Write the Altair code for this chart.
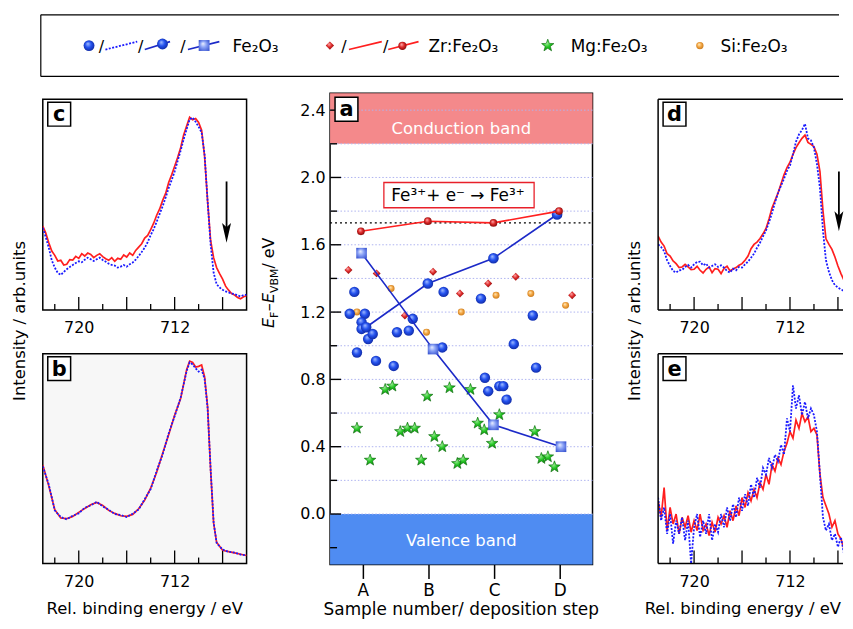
import altair as alt
import pandas as pd

FONT = "DejaVu Sans"

# ===================== Panel a : E_F - E_VBM vs deposition step =====================
step_labels = ["A", "B", "C", "D"]
step_pos = [1, 2, 3, 4]

fe_x = [0.87, 2.23, 2.80, 0.80, 1.03, 0.98, 0.98, 1.08, 1.15, 0.91, 1.20, 1.47,
        1.52, 1.70, 1.76, 2.21, 2.86, 2.91, 3.08, 3.14, 3.19, 3.30, 3.59, 3.64]
fe_y = [1.32, 1.32, 1.28, 1.19, 1.19, 1.14, 1.10, 1.04, 1.07, 0.96, 0.91, 0.88,
        1.08, 1.09, 1.16, 0.99, 0.81, 0.73, 0.76, 0.76, 0.68, 1.01, 1.18, 0.87]
zr_x = [0.78, 1.21, 2.07, 2.48, 2.91, 3.33, 4.19, 1.64]
zr_y = [1.45, 1.43, 1.44, 1.31, 1.37, 1.41, 1.30, 1.18]
si_x = [1.43, 3.03, 3.56, 4.09, 0.91, 2.50, 1.97]
si_y = [1.34, 1.30, 1.31, 1.24, 1.20, 1.20, 1.08]
mg_x = [0.91, 1.11, 1.34, 1.45, 1.57, 1.68, 1.79, 1.98, 1.89, 2.09, 2.21, 2.32,
        2.44, 2.53, 2.64, 2.75, 2.85, 2.97, 3.08, 3.62, 3.72, 3.82, 3.92]
mg_y = [0.51, 0.32, 0.74, 0.76, 0.49, 0.51, 0.51, 0.70, 0.32, 0.46, 0.40, 0.75,
        0.30, 0.32, 0.74, 0.54, 0.50, 0.42, 0.59, 0.49, 0.33, 0.34, 0.28]

ball_line_x = [1.05, 1.99, 2.99, 3.96]
ball_line_y = [1.11, 1.37, 1.52, 1.78]
square_line_x = [0.98, 2.07, 2.99, 4.02]
square_line_y = [1.55, 0.98, 0.53, 0.40]
zr_line_x = [0.97, 1.99, 2.99, 3.99]
zr_line_y = [1.68, 1.74, 1.73, 1.80]

band_lo = [2.2, -0.3]
band_hi = [2.5, 0.0]
band_names = ["Conduction band", "Valence band"]
band_label_y = [2.29, -0.16]
pinning_level = [1.73]
grid_levels = [0.0, 0.2, 0.4, 0.6, 0.8, 1.0, 1.2, 1.4, 1.6, 1.8, 2.0, 2.2, 2.4]
y_major = [0.0, 0.4, 0.8, 1.2, 1.6, 2.0, 2.4]
y_minor = [-0.2, 0.2, 0.6, 1.0, 1.4, 1.8, 2.2]
reaction_box = {"x": [1.32], "x2": [3.61], "y": [1.82], "y2": [1.97]}
reaction_text = "Fe³⁺+ e⁻ → Fe³⁺"
reaction_pos = {"x": [2.45], "y": [1.89]}

# ===================== Spectra (intensity in arbitrary units) =====================
c_E = [723.0, 722.75, 722.5, 722.25, 722.0, 721.75, 721.5, 721.25, 721.0, 720.75,
       720.5, 720.25, 720.0, 719.75, 719.5, 719.25, 719.0, 718.75, 718.5, 718.25,
       718.0, 717.75, 717.5, 717.25, 717.0, 716.75, 716.5, 716.25, 716.0, 715.75,
       715.5, 715.25, 715.0, 714.75, 714.5, 714.25, 714.0, 713.75, 713.5, 713.25,
       713.0, 712.75, 712.5, 712.25, 712.0, 711.75, 711.5, 711.25, 711.0, 710.75,
       710.5, 710.25, 710.0, 709.75, 709.5, 709.25, 709.0, 708.75, 708.5, 708.25,
       708.0, 707.75, 707.5, 707.25, 707.0, 706.75, 706.5, 706.25, 706.0]
c_red = [253, 232, 203, 178, 165, 148, 150, 136, 138, 152,
         151, 162, 156, 170, 163, 172, 168, 158, 165, 170,
         161, 155, 150, 158, 147, 156, 153, 166, 160, 172,
         165, 180, 190, 200, 217, 225, 243, 262, 286, 305,
         331, 352, 385, 408, 434, 460, 490, 528, 555, 582,
         574, 578, 566, 543, 463, 328, 210, 158, 128, 110,
         93, 72, 60, 50, 45, 38, 34, 40, 43]
c_blue = [248, 220, 188, 150, 128, 112, 106, 115, 123, 130,
          136, 142, 147, 144, 152, 158, 153, 148, 153, 158,
          151, 146, 140, 136, 134, 128, 131, 136, 131, 138,
          143, 152, 163, 175, 188, 205, 226, 244, 266, 290,
          313, 340, 368, 392, 418, 450, 481, 515, 546, 575,
          581, 568, 553, 536, 468, 328, 198, 113, 78, 68,
          61, 56, 53, 50, 48, 44, 41, 45, 46]

b_E = [723.0, 722.5, 722.0, 721.5, 721.0, 720.5, 720.0, 719.5, 719.0, 718.5,
       718.0, 717.5, 717.0, 716.5, 716.0, 715.5, 715.0, 714.5, 714.0, 713.5,
       713.0, 712.5, 712.0, 711.5, 711.0, 710.75, 710.5, 710.25, 710.0, 709.75,
       709.5, 709.25, 709.0, 708.75, 708.5, 708.0, 707.5, 707.0, 706.5, 706.0]
b_red = [297, 234, 162, 137, 135, 142, 154, 166, 177, 184,
         175, 160, 151, 144, 142, 148, 165, 191, 227, 275,
         332, 388, 447, 497, 584, 610, 606, 592, 594, 598,
         562, 472, 282, 122, 64, 40, 36, 32, 28, 24]
b_blue = [293, 238, 160, 140, 133, 144, 151, 168, 175, 186,
          172, 162, 149, 146, 140, 150, 163, 194, 224, 279,
          329, 392, 444, 500, 580, 606, 600, 588, 578, 584,
          556, 468, 285, 125, 62, 42, 35, 33, 27, 25]

d_E = [723.0, 722.75, 722.5, 722.25, 722.0, 721.75, 721.5, 721.25, 721.0, 720.75,
       720.5, 720.25, 720.0, 719.75, 719.5, 719.25, 719.0, 718.75, 718.5, 718.25,
       718.0, 717.75, 717.5, 717.25, 717.0, 716.75, 716.5, 716.25, 716.0, 715.75,
       715.5, 715.25, 715.0, 714.75, 714.5, 714.25, 714.0, 713.75, 713.5, 713.25,
       713.0, 712.75, 712.5, 712.25, 712.0, 711.75, 711.5, 711.25, 711.0, 710.75,
       710.5, 710.25, 710.0, 709.75, 709.5, 709.25, 709.0, 708.75, 708.5, 708.25,
       708.0, 707.75, 707.5, 707.25, 707.0, 706.75]
d_red = [223, 205, 193, 170, 163, 148, 140, 128, 130, 138,
         130, 122, 123, 132, 120, 112, 123, 130, 113, 125,
         123, 110, 126, 132, 118, 124, 128, 135, 140, 150,
         163, 185, 198, 205, 216, 230, 246, 275, 308, 330,
         353, 380, 408, 430, 446, 470, 490, 505, 518, 528,
         506, 500, 493, 470, 418, 300, 215, 198, 183, 160,
         133, 110, 90, 75, 61, 43]
d_blue = [198, 190, 178, 150, 133, 118, 113, 120, 121, 130,
          136, 128, 138, 145, 146, 135, 140, 128, 133, 138,
          130, 135, 128, 118, 113, 125, 120, 130, 128, 138,
          146, 158, 170, 188, 203, 222, 240, 265, 293, 325,
          353, 375, 396, 420, 436, 470, 508, 530, 543, 562,
          518, 512, 490, 440, 368, 240, 150, 115, 90, 75,
          68, 62, 58, 52, 50, 38]

e_E = [723.0, 722.75, 722.5, 722.25, 722.0, 721.75, 721.5, 721.25, 721.0, 720.75,
       720.5, 720.25, 720.0, 719.75, 719.5, 719.25, 719.0, 718.75, 718.5, 718.25,
       718.0, 717.75, 717.5, 717.25, 717.0, 716.75, 716.5, 716.25, 716.0, 715.75,
       715.5, 715.25, 715.0, 714.75, 714.5, 714.25, 714.0, 713.75, 713.5, 713.25,
       713.0, 712.75, 712.5, 712.25, 712.0, 711.75, 711.5, 711.25, 711.0, 710.75,
       710.5, 710.25, 710.0, 709.75, 709.5, 709.25, 709.0, 708.75, 708.5, 708.25,
       708.0, 707.75, 707.5, 707.25, 707.0, 706.75]
e_red = [190, 140, 230, 100, 170, 120, 150, 90, 140, 110,
         145, 95, 130, 100, 150, 100, 120, 85, 125, 95,
         140, 120, 145, 110, 160, 130, 175, 145, 200, 170,
         215, 190, 225, 200, 245, 225, 270, 240, 300, 280,
         320, 300, 340, 365, 400, 380, 435, 410, 455, 430,
         445, 400, 410, 390, 270, 200, 175, 150, 110, 130,
         90, 75, 45, 70, 15, 48]
e_blue = [200, 130, 170, 90, 150, 60, 130, 90, 140, 70,
          130, 0, 110, 150, 80, 130, 90, 150, 70, 120,
          95, 150, 110, 170, 130, 180, 140, 200, 160, 210,
          175, 240, 200, 260, 230, 290, 270, 320, 290, 330,
          310, 360, 330, 440, 400, 540, 470, 510, 450, 490,
          440, 470, 450, 400, 270, 140, 100, 120, 70, 90,
          50, 80, 30, 60, 40, 50]

tick_major_E = [720, 716, 712, 708]
tick_minor_E = [722, 718, 714, 710]
tick_label_E = [720, 712]
arrow_c = {"E": [707.67], "top": [388], "head": [233]}
arrow_d = {"E": [707.92], "top": [418], "head": [268]}

legend_names = ["Fe₂O₃", "Zr:Fe₂O₃", "Mg:Fe₂O₃", "Si:Fe₂O₃"]

# ===================== styles =====================
RED = "#ff1f1f"
BLUE = "#1a1aff"
LINE_BLUE = "#1c2ac8"
CB_COL = "#f4898b"
VB_COL = "#4f8cf2"
GRID_COL = "#aeb3f0"


def grad(light, mid, dark):
    return {"gradient": "radial", "x1": 0.38, "y1": 0.32, "r1": 0.0,
            "x2": 0.5, "y2": 0.5, "r2": 0.62,
            "stops": [{"offset": 0.0, "color": light},
                      {"offset": 0.45, "color": mid},
                      {"offset": 1.0, "color": dark}]}


G_FE = grad("#a9c2ff", "#2452f0", "#0b1e8c")
G_SQ = grad("#eef2ff", "#8aa2f6", "#3a55d0")
G_ZR = grad("#ffb8b8", "#e02a2a", "#6a0000")
G_SI = grad("#fff2cc", "#f6a844", "#b86a10")
G_MG = grad("#b0f5a8", "#22c422", "#0b7a0b")
STAR = ("M0,-1L0.247,-0.34L0.951,-0.309L0.399,0.13L0.588,0.809L0,0.42"
        "L-0.588,0.809L-0.399,0.13L-0.951,-0.309L-0.247,-0.34Z")
ARROW = "M-0.45,-1L0,1L0.45,-1L0,-0.55Z"

one = pd.DataFrame({"k": [0]})


def anchor(x, y0, y1):
    return alt.Chart(one).mark_rule(strokeOpacity=0, strokeWidth=1).encode(
        x=alt.value(x), y=alt.value(y0), y2=alt.value(y1))


def seg(x1, y1, x2, y2, color="black", width=1.5, dash=None):
    kw = dict(color=color, strokeWidth=width)
    if dash:
        kw["strokeDash"] = dash
    return alt.Chart(one).mark_rule(**kw).encode(
        x=alt.value(x1), y=alt.value(y1), x2=alt.value(x2), y2=alt.value(y2))


def vtext(txt, x, y, size=16, **kw):
    return alt.Chart(one).mark_text(text=txt, font=FONT, fontSize=size,
                                    color="black", **kw).encode(
        x=alt.value(x), y=alt.value(y))


def vsym(x, y, shape, size, fill, stroke=None):
    kw = dict(shape=shape, size=size, filled=True, fill=fill, opacity=1)
    if stroke:
        kw.update(stroke=stroke, strokeWidth=0.6)
    else:
        kw.update(strokeWidth=0)
    return alt.Chart(one).mark_point(**kw).encode(x=alt.value(x), y=alt.value(y))


def label_box(letter, x0, y0, w=23, h=24):
    rect = alt.Chart(one).mark_rect(fill="white", stroke="black", strokeWidth=1.5).encode(
        x=alt.value(x0), x2=alt.value(x0 + w), y=alt.value(y0), y2=alt.value(y0 + h))
    txt = vtext(letter, x0 + w / 2, y0 + h / 2 + 1, size=21, fontWeight="bold",
                align="center", baseline="middle")
    return [rect, txt]


def spacer(w, h):
    return anchor(0, 0, h).properties(
        width=w, height=h, view=alt.ViewBackground(fill="transparent", stroke="transparent"))


# ===================== spectra panels =====================
AX_S = alt.Axis(values=tick_label_E, format="d", ticks=False, tickSize=0, domain=False,
                grid=False, labelFontSize=16, labelPadding=10, labelFont=FONT,
                labelColor="black")


def spectrum(E, red, blue, emin, width, height, ymax, letter, framed=True, bg="white",
             arrow=None, extra=None):
    df = pd.DataFrame({"E": E, "red": red, "blue": blue})
    xs = alt.Scale(domain=[723.0, emin], nice=False, zero=False)
    ys = alt.Scale(domain=[0, ymax], nice=False, zero=False)
    X = alt.X("E:Q", scale=xs, axis=AX_S, title=None)
    layers = []
    layers.append(alt.Chart(pd.DataFrame({"E": tick_major_E})).mark_rule(
        color="black", strokeWidth=1.3).encode(x=X, y=alt.value(height), y2=alt.value(height - 13)))
    layers.append(alt.Chart(pd.DataFrame({"E": tick_minor_E})).mark_rule(
        color="black", strokeWidth=1.3).encode(x=X, y=alt.value(height), y2=alt.value(height - 6)))
    layers.append(alt.Chart(df).mark_line(color=RED, strokeWidth=1.7, clip=True).encode(
        x=X, y=alt.Y("red:Q", scale=ys, axis=None)))
    layers.append(alt.Chart(df).mark_line(color=BLUE, strokeWidth=1.8, strokeDash=[2, 1.5],
                                          clip=True).encode(
        x=X, y=alt.Y("blue:Q", scale=ys, axis=None)))
    if arrow is not None:
        adf = pd.DataFrame(arrow)
        layers.append(alt.Chart(adf).mark_rule(color="black", strokeWidth=1.8).encode(
            x=X, y=alt.Y("top:Q", scale=ys, axis=None), y2="head:Q"))
        layers.append(alt.Chart(adf).mark_point(shape=ARROW, size=400, filled=True, fill="black",
                                                opacity=1, strokeWidth=0).encode(
            x=X, y=alt.Y("head:Q", scale=ys, axis=None)))
    if not framed:
        layers.append(seg(0, 0, 0, height))
        layers.append(seg(0, 0, width, 0))
        layers.append(seg(0, height, width, height))
    layers += label_box(letter, 5, 3)
    if extra:
        layers += extra
    view = alt.ViewBackground(fill=bg, stroke="black" if framed else "transparent",
                              strokeWidth=1.5)
    return alt.layer(*layers).properties(width=width, height=height, view=view)


SW, SH1, SH2, SWR = 205, 212, 211, 186
E_RIGHT = 723.0 - SWR / 12.06
ylab = dict(size=16.5, angle=270, align="center", baseline="alphabetic")

c_chart = spectrum(c_E, c_red, c_blue, 706.0, SW, SH1, 636, "c", arrow=arrow_c,
                   extra=[vtext("Intensity / arb.units", -18, 223, **ylab),
                          anchor(-33.5, 0, 5), anchor(214.5, 0, 5)])
b_chart = spectrum(b_E, b_red, b_blue, 706.0, SW, SH2, 632, "b", bg="#f7f7f7",
                   extra=[vtext("Rel. binding energy / eV", 102.5, 262, size=16.5,
                                align="center", baseline="alphabetic")])
d_chart = spectrum(d_E, d_red, d_blue, E_RIGHT, SWR, SH1, 636, "d", framed=False,
                   arrow=arrow_d,
                   extra=[vtext("Intensity / arb.units", -18, 223, **ylab),
                          anchor(-33.5, 0, 5)])
e_chart = spectrum(e_E, e_red, e_blue, E_RIGHT, SWR, SH2, 636, "e", framed=False,
                   extra=[vtext("Rel. binding energy / eV", 184, 262, size=16.5,
                                align="right", baseline="alphabetic")])

# ===================== panel a =====================
AW, AH = 264, 474
sx = alt.Scale(domain=[0.5, 4.5], nice=False, zero=False)
sy = alt.Scale(domain=[-0.3, 2.5], nice=False, zero=False)
label_expr = "['','" + "','".join(step_labels) + "'][datum.value]"
XA = alt.Axis(values=step_pos, labelExpr=label_expr, tickSize=14, tickWidth=1.5,
              tickColor="black", domain=False, grid=False, labelFontSize=17,
              labelPadding=4, labelFont=FONT, labelColor="black")
YA = alt.Axis(values=y_major, format=".1f", ticks=False, tickSize=0, domain=False,
              grid=False, labelFontSize=16, labelPadding=5, labelFont=FONT,
              labelColor="black")


def ax(f="x"):
    return alt.X(f"{f}:Q", scale=sx, axis=XA, title=None)


def ay(f="y"):
    return alt.Y(f"{f}:Q", scale=sy, axis=YA, title=None)


def scatter(xs_, ys_, shape, size, fill, stroke=None):
    kw = dict(shape=shape, size=size, filled=True, fill=fill, opacity=1)
    if stroke:
        kw.update(stroke=stroke, strokeWidth=0.6)
    else:
        kw.update(strokeWidth=0)
    return alt.Chart(pd.DataFrame({"x": xs_, "y": ys_})).mark_point(**kw).encode(x=ax(), y=ay())


def polyline(xs_, ys_, color):
    return alt.Chart(pd.DataFrame({"x": xs_, "y": ys_})).mark_line(
        color=color, strokeWidth=1.6).encode(x=ax(), y=ay())


bands_df = pd.DataFrame({"y": band_lo, "y2": band_hi, "n": band_names,
                         "x": [2.5, 2.5], "ly": band_label_y})
a_layers = [
    alt.Chart(bands_df).mark_rect().encode(
        x=alt.value(0), x2=alt.value(AW), y=ay(), y2="y2:Q",
        color=alt.Color("n:N", scale=alt.Scale(domain=band_names, range=[CB_COL, VB_COL]),
                        legend=None)),
    alt.Chart(pd.DataFrame({"y": grid_levels})).mark_rule(
        color=GRID_COL, strokeWidth=1, strokeDash=[1.5, 2]).encode(
        x=alt.value(0), x2=alt.value(AW), y=ay()),
    alt.Chart(bands_df).mark_text(color="white", font=FONT, fontSize=16.5,
                                  baseline="middle").encode(
        x=ax(), y=ay("ly"), text="n:N"),
    alt.Chart(pd.DataFrame({"y": pinning_level})).mark_rule(
        color="black", strokeWidth=1.3, strokeDash=[2, 3]).encode(
        x=alt.value(0), x2=alt.value(AW), y=ay()),
    alt.Chart(pd.DataFrame(reaction_box)).mark_rect(
        fill="white", stroke="#e8202a", strokeWidth=1.3).encode(
        x=ax(), x2="x2:Q", y=ay(), y2="y2:Q"),
    alt.Chart(pd.DataFrame(reaction_pos)).mark_text(
        text=reaction_text, font=FONT, fontSize=17, color="black", baseline="middle").encode(
        x=ax(), y=ay()),
    scatter(si_x, si_y, "circle", 49, G_SI),
    scatter(zr_x, zr_y, "diamond", 64, G_ZR),
    scatter(fe_x, fe_y, "circle", 110, G_FE),
    scatter(mg_x, mg_y, STAR, 150, G_MG, stroke="#0a6a0a"),
    polyline(square_line_x, square_line_y, LINE_BLUE),
    scatter(square_line_x, square_line_y, "square", 115, G_SQ),
    polyline(ball_line_x, ball_line_y, LINE_BLUE),
    scatter(ball_line_x, ball_line_y, "circle", 115, G_FE),
    polyline(zr_line_x, zr_line_y, RED),
    scatter(zr_line_x, zr_line_y, "circle", 60, G_ZR),
    alt.Chart(pd.DataFrame({"y": y_major})).mark_rule(color="black", strokeWidth=1.4).encode(
        x=alt.value(0), x2=alt.value(11), y=ay()),
    alt.Chart(pd.DataFrame({"y": y_minor})).mark_rule(color="black", strokeWidth=1.4).encode(
        x=alt.value(0), x2=alt.value(7), y=ay()),
]
a_layers += label_box("a", 5, 4)
rot = dict(angle=270, align="left", baseline="alphabetic")
a_layers += [
    vtext("E", -56, 236, size=16, fontStyle="italic", **rot),
    vtext("F", -52.5, 225.9, size=11, **rot),
    vtext("–", -56, 219.2, size=16, **rot),
    vtext("E", -56, 211, size=16, fontStyle="italic", **rot),
    vtext("VBM", -52.5, 200.9, size=11, **rot),
    vtext(" / eV", -56, 176.3, size=16, **rot),
    vtext("Sample number/ deposition step", AW / 2, 525, size=17, align="center",
          baseline="alphabetic"),
    anchor(-71.5, -3.5, 0), anchor(293.5, -3.5, 0),
]
a_chart = alt.layer(*a_layers).properties(
    width=AW, height=AH, view=alt.ViewBackground(fill="white", stroke="black", strokeWidth=1.5))

# ===================== legend =====================
LW, LH = 801, 62
slash = dict(size=16, align="center", baseline="alphabetic")
ltxt = dict(size=17, align="left", baseline="alphabetic")
leg_layers = [
    anchor(-33.5, -4.5, 73.5),
    seg(-2, 0, LW, 0, width=1.2), seg(-2, LH, LW, LH, width=1.2), seg(-2, 0, -2, LH, width=1.2),
    vsym(46.5, 31, "circle", 120, G_FE),
    vtext("/", 59, 37, **slash),
    seg(63, 35, 95, 27, color=BLUE, width=1.8, dash=[2, 1.5]),
    vtext("/", 98.5, 37, **slash),
    seg(102.6, 35, 128, 27, color=LINE_BLUE, width=1.6),
    vsym(120.4, 29.4, "circle", 120, G_FE),
    vtext("/", 140.9, 37, **slash),
    seg(146, 35, 177.6, 27, color=LINE_BLUE, width=1.6),
    vsym(162.3, 30.9, "square", 120, G_SQ),
    vtext(legend_names[0], 190.9, 37, **ltxt),
    vsym(288.8, 31, "diamond", 70, G_ZR),
    vtext("/", 303, 37, **slash),
    seg(308, 35, 341, 27, color=RED, width=1.6),
    vtext("/", 345, 37, **slash),
    seg(347.5, 35, 378, 27, color=RED, width=1.6),
    vsym(361.8, 31.2, "circle", 70, G_ZR),
    vtext(legend_names[1], 388, 37, **ltxt),
    vsym(508, 31, STAR, 170, G_MG, stroke="#0a6a0a"),
    vtext(legend_names[2], 531, 37, **ltxt),
    vsym(661, 31, "circle", 55, G_SI),
    vtext(legend_names[3], 681.7, 37, **ltxt),
]
legend_chart = alt.layer(*leg_layers).properties(
    width=LW, height=LH, view=alt.ViewBackground(fill="white", stroke="transparent"))

# ===================== layout =====================
col_left = alt.vconcat(spacer(SW, 6), c_chart, spacer(SW, 44), b_chart,
                       spacing=0, bounds="flush")
col_right = alt.vconcat(spacer(SWR, 6), d_chart, spacer(SWR, 44), e_chart,
                        spacing=0, bounds="flush")
row = alt.hconcat(col_left, a_chart, col_right, spacing=0)
chart = alt.vconcat(legend_chart, row, spacing=0).properties(
    padding=0, background="white"
).configure(font=FONT).configure_axis(labelFont=FONT)

chart.save("out.html", embed_options={"renderer": "svg", "actions": False})
